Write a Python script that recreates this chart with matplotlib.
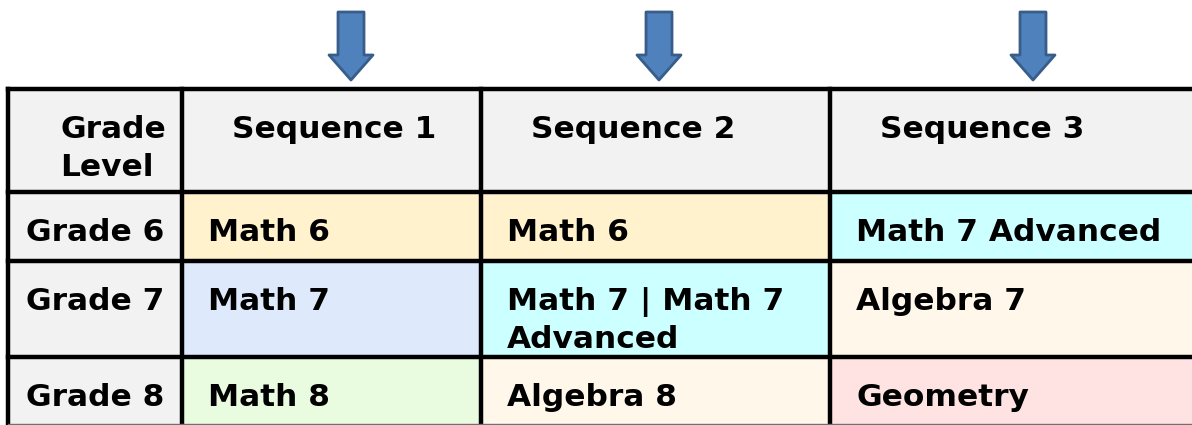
import matplotlib
matplotlib.use("Agg")
import matplotlib.pyplot as plt
from matplotlib.patches import Rectangle, FancyArrow

# ---- data ----
header_first = ["Grade", "Level"]
sequences = ["Sequence 1", "Sequence 2", "Sequence 3"]
grades = ["Grade 6", "Grade 7", "Grade 8"]
seq1_courses = [["Math 6"], ["Math 7"], ["Math 8"]]
seq2_courses = [["Math 6"], ["Math 7 | Math 7", "Advanced"], ["Algebra 8"]]
seq3_courses = [["Math 7 Advanced"], ["Algebra 7"], ["Geometry"]]
course_colors = {
    "Math 6": "#FFF2CC",
    "Math 7": "#DEEAFC",
    "Math 8": "#E9FCE0",
    "Math 7 | Math 7": "#CCFFFF",
    "Math 7 Advanced": "#CCFFFF",
    "Algebra 7": "#FFF7EA",
    "Algebra 8": "#FFF7EA",
    "Geometry": "#FFE3E3",
}

# ---- layout (pixel units) ----
W, H = 1192, 425
col_x = [8, 182, 481, 830, 1200]
row_y = [89, 192, 261, 357, 430]
arrow_x = [351, 659, 1033]
header_bg = "#F2F2F2"
fs = 22.5
line_gap = 38
base_off = 49

fig = plt.figure(figsize=(W / 100, H / 100), dpi=100)
ax = fig.add_axes([0, 0, 1, 1])
ax.set_xlim(0, W)
ax.set_ylim(H, 0)
ax.axis("off")


def cell(c, r, color):
    x0, x1 = col_x[c], col_x[c + 1]
    y0, y1 = row_y[r], row_y[r + 1]
    ax.add_patch(Rectangle((x0, y0), x1 - x0, y1 - y0, facecolor=color,
                           edgecolor="#A0A0A0", lw=0.8, zorder=1))


def write(c, r, lines, ha="left", pad=26):
    x = col_x[c] + pad if ha == "left" else col_x[c + 1] - pad
    for i, t in enumerate(lines):
        ax.text(x, row_y[r] + base_off + i * line_gap, t, ha=ha, va="baseline",
                fontsize=fs, fontweight="bold", family="DejaVu Sans",
                color="black", zorder=5)


# header row
for c in range(4):
    cell(c, 0, header_bg)
gl_left = 60
for i, t in enumerate(header_first):
    ax.text(gl_left, row_y[0] + base_off + i * line_gap, t, ha="left",
            va="baseline", fontsize=fs, fontweight="bold",
            family="DejaVu Sans", zorder=5)
for j, s in enumerate(sequences):
    write(j + 1, 0, [s], pad=50)

# body rows
all_seq = [seq1_courses, seq2_courses, seq3_courses]
for r, g in enumerate(grades):
    cell(0, r + 1, header_bg)
    write(0, r + 1, [g], ha="right", pad=18)
    for j, seq in enumerate(all_seq):
        lines = seq[r]
        cell(j + 1, r + 1, course_colors[lines[0]])
        write(j + 1, r + 1, lines, pad=26)

# thick grid lines
lw = 3.2
for x in col_x[:-1]:
    ax.plot([x, x], [row_y[0], row_y[-1]], color="black", lw=lw,
            solid_capstyle="projecting", zorder=6)
for y in row_y[:-1]:
    ax.plot([col_x[0], col_x[-1]], [y, y], color="black", lw=lw,
            solid_capstyle="projecting", zorder=6)
ax.plot([col_x[0], col_x[-1]], [H - 1.5, H - 1.5], color="#707070", lw=1.0, zorder=6)

# arrows
for x in arrow_x:
    ax.add_patch(FancyArrow(x, 12, 0, 68, width=26, head_width=44,
                            head_length=25, length_includes_head=True,
                            facecolor="#4F81BD", edgecolor="#385D8A", lw=2.0,
                            joinstyle="round", zorder=7))

fig.savefig("out.png", dpi=100, facecolor="white")
